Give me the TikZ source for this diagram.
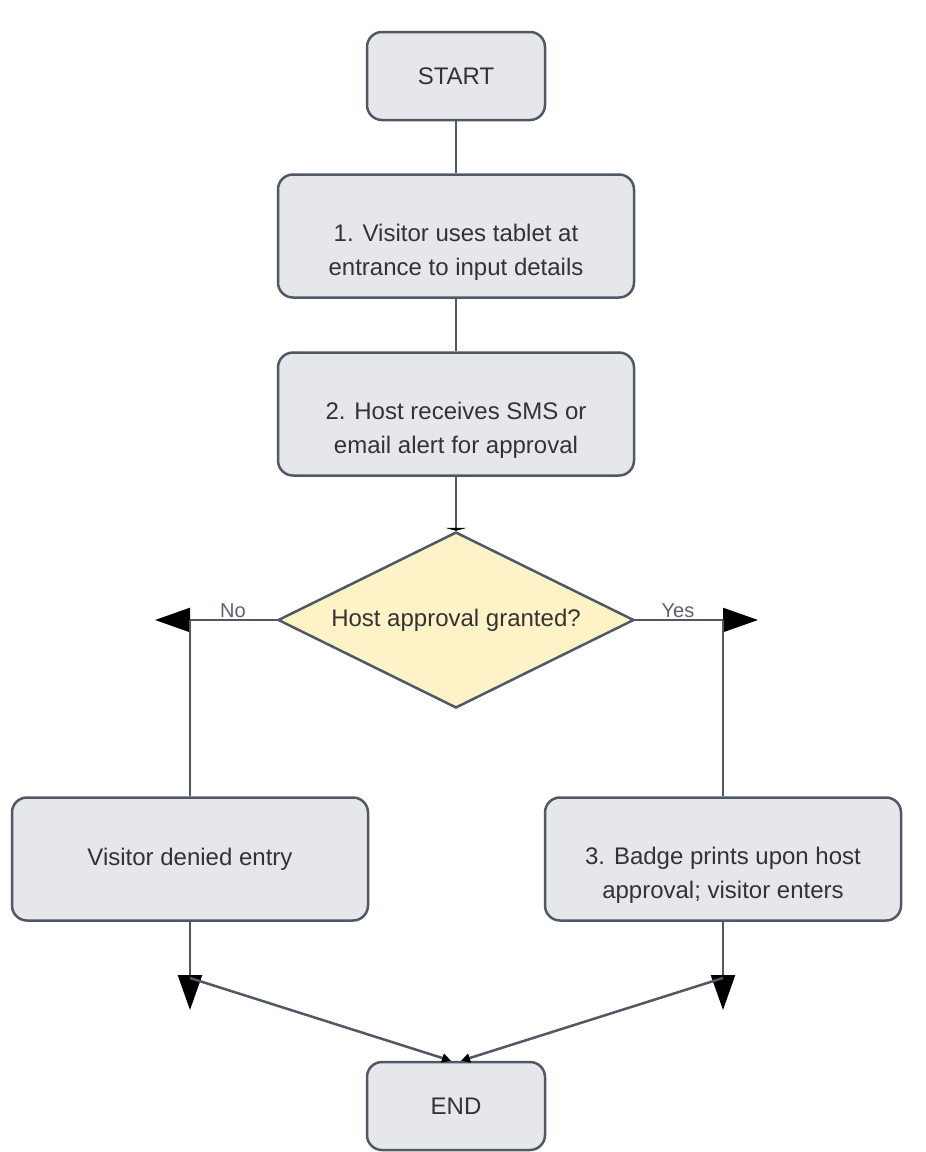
\documentclass[tikz,border=0pt]{standalone}
\usepackage{fontspec}
\setmainfont{Liberation Sans}
\usetikzlibrary{arrows.meta,shapes.geometric}
\definecolor{boxfill}{RGB}{229,231,235}
\definecolor{edge}{RGB}{80,88,102}
\definecolor{askfill}{RGB}{254,243,199}
\definecolor{ink}{RGB}{51,51,51}
\definecolor{lbl}{RGB}{90,96,110}
\newcommand\dropline{\vphantom{A}\\}

\begin{document}
\begin{tikzpicture}[x=1pt, y=-1pt,
  stepbox/.style={rectangle, rounded corners=15pt, draw=edge, fill=boxfill,
    line width=2.5pt, minimum width=356pt, minimum height=123pt, align=center,
    text=ink, font=\fontsize{24}{34}\selectfont},
  termbox/.style={stepbox, minimum width=178pt, minimum height=88pt},
  askbox/.style={diamond, aspect=2.02, draw=edge, fill=askfill, line width=2.5pt,
    minimum width=356pt, minimum height=176pt, inner sep=0pt, text=ink,
    font=\fontsize{24}{34}\selectfont},
  flow/.style={draw=edge, line width=2.5pt},
  bigtip/.style={-{Triangle[length=35pt, width=24pt, color=black]}},
  smalltip/.style={-{Triangle[length=9pt, width=9pt, color=black]}},
  branch/.style={font=\fontsize{20}{24}\selectfont, text=lbl, anchor=base, inner sep=0pt}]
\useasboundingbox (0,0) rectangle (926,1152);

% boxes
\node[termbox] (start) at (456,76) {START};
\node[stepbox] (tablet) at (456,236) {\dropline 1. Visitor uses tablet at\\entrance to input details};
\node[stepbox] (alert) at (456,414) {\dropline 2. Host receives SMS or\\email alert for approval};
\node[askbox] (approved) at (456,620) {Host approval granted?};
\node[stepbox] (denied) at (190,859) {Visitor denied entry};
\node[stepbox] (badge) at (723,859) {\dropline 3. Badge prints upon host\\approval; visitor enters};
\node[termbox] (finish) at (456,1106) {END};

% bends and tips
\coordinate (nobend) at (190,620);
\coordinate (notip) at (155,620);
\coordinate (yesbend) at (723,620);
\coordinate (yestip) at (758,620);
\coordinate (nojoin) at (190,978);
\coordinate (nodown) at (190,1010);
\coordinate (yesjoin) at (723,978);
\coordinate (yesdown) at (723,1010);

\draw[flow] (start) -- (tablet);
\draw[flow] (tablet) -- (alert);
\draw[flow, -{Triangle[length=3pt, width=22pt, color=black]}] (alert) -- (approved.north);

\draw[flow, bigtip] (approved.west) -- (notip);
\draw[flow] (nobend) -- (denied);
\node[branch] (nolabel) at (233,617) {No};
\draw[flow, bigtip] (approved.east) -- (yestip);
\draw[flow] (yesbend) -- (badge);
\node[branch] (yeslabel) at (678,617) {Yes};

\draw[flow, bigtip] (denied) -- (nodown);
\draw[flow, smalltip] (nojoin) -- ([xshift=-5pt]finish.north);
\draw[flow, bigtip] (badge) -- (yesdown);
\draw[flow, smalltip] (yesjoin) -- ([xshift=5pt]finish.north);
\end{tikzpicture}
\end{document}
